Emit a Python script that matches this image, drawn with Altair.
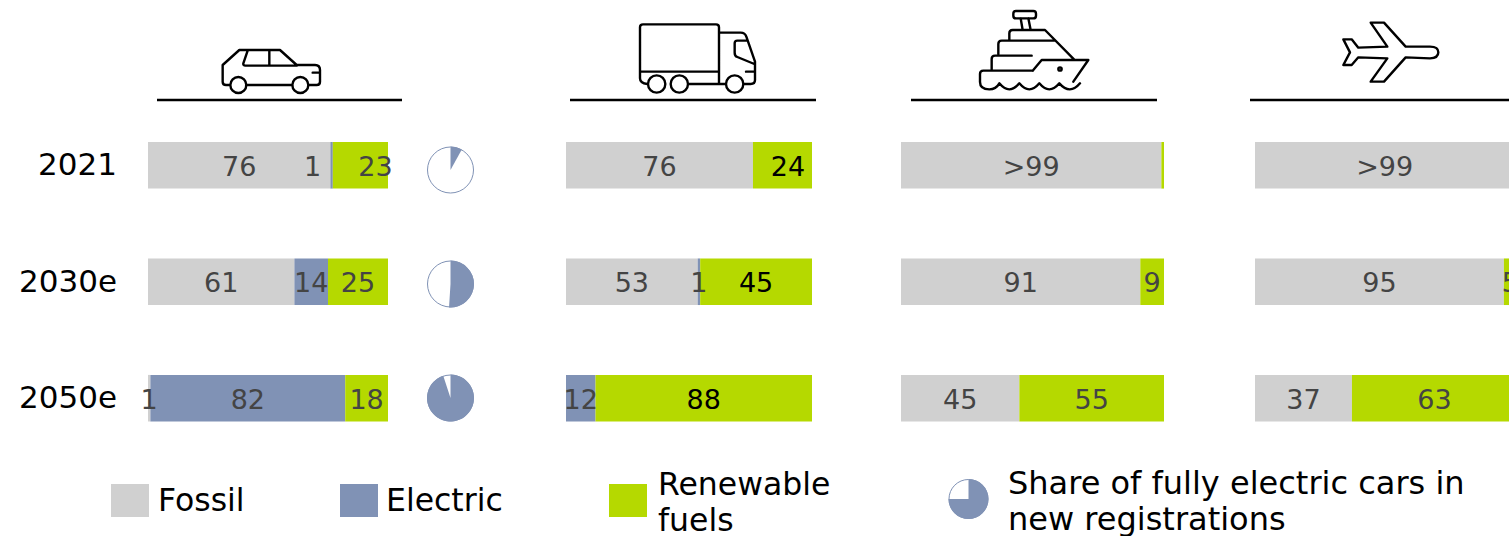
import altair as alt
import pandas as pd

# Energy mix per transport mode, in percent
years = ["2021", "2030e", "2050e"]
modes = ["Cars", "Trucks", "Ships", "Planes"]
series = ["Fossil", "Electric", "Renewable fuels"]
fossil = {"Cars": [76, 61, 1], "Trucks": [76, 53, 0], "Ships": [99, 91, 45], "Planes": [99, 95, 37]}
electric = {"Cars": [1, 14, 82], "Trucks": [0, 1, 12], "Ships": [0, 0, 0], "Planes": [0, 0, 0]}
renewable = {"Cars": [23, 25, 18], "Trucks": [24, 45, 88], "Ships": [1, 9, 55], "Planes": [1, 5, 63]}
ev_share = [8, 51, 95]
legend_ev_share = [75]
legend_labels = ["Fossil", "Electric", ["Renewable", "fuels"],
                 ["Share of fully electric cars in", "new registrations"]]

# Drawing constants
GREY, BLUE, GREEN = "#d0d0d0", "#8092b5", "#b5d900"
INK, DARK = "#000000", "#444444"
FONT = "DejaVu Sans"
W, H = 1509, 536
bar_span = {"Cars": [148, 388], "Trucks": [566, 812], "Ships": [901, 1164], "Planes": [1255, 1517]}
rule_span = {"Cars": [157, 402], "Trucks": [570, 816], "Ships": [911, 1157], "Planes": [1250, 1509]}
# Labels that sit off the middle of their segment, in pixels
label_nudge = {("Cars", "2021", "Electric"): -19, ("Cars", "2021", "Renewable fuels"): 15,
               ("Trucks", "2021", "Renewable fuels"): 5.5}
hidden_labels = {("Ships", "2021", "Renewable fuels"), ("Planes", "2021", "Renewable fuels")}
capped_labels = {("Ships", "2021", "Fossil"): ">99", ("Planes", "2021", "Fossil"): ">99"}

rows = []
for mode in modes:
    span = bar_span[mode]
    for i, year in enumerate(years):
        values = [fossil[mode][i], electric[mode][i], renewable[mode][i]]
        total = sum(values)
        run = 0
        for name, value in zip(series, values):
            if value:
                start, end = run / total, (run + value) / total
                key = (mode, year, name)
                shift = label_nudge.get(key, 0) / (span[1] - span[0])
                rows.append({
                    "mode": mode, "year": year, "series": name, "value": value,
                    "start": start, "end": end, "mid": (start + end) / 2 + shift,
                    "label": capped_labels.get(key, str(value)),
                    "shown": key not in hidden_labels,
                })
            run += value
table = pd.DataFrame(rows)

year_y = alt.Y("year:N", axis=None,
               scale=alt.Scale(type="band", domain=years, range=[142, 421.5],
                               paddingInner=0.6, paddingOuter=0))
series_color = alt.Color("series:N", legend=None,
                         scale=alt.Scale(domain=series, range=[GREY, BLUE, GREEN]))

layers = []

# Stacked bars and their value labels, one x scale per transport mode
for mode in modes:
    part = table[table["mode"] == mode]
    x_scale = alt.Scale(domain=[0, 1], range=bar_span[mode])
    layers.append(
        alt.Chart(part).mark_bar().encode(
            x=alt.X("start:Q", axis=None, scale=x_scale),
            x2="end:Q", y=year_y, color=series_color)
    )
    shown = part[part["shown"]]
    black = (shown["mode"] == "Trucks") & (shown["series"] == "Renewable fuels")
    for subset, ink in ((shown[~black], DARK), (shown[black], INK)):
        if len(subset):
            layers.append(
                alt.Chart(subset).mark_text(font=FONT, fontSize=27, color=ink, dy=2.5).encode(
                    x=alt.X("mid:Q", axis=None, scale=x_scale),
                    y=year_y, text="label:N")
            )
    x0, x1 = rule_span[mode]
    layers.append(
        alt.Chart(pd.DataFrame({"mode": [mode]})).mark_rule(color=INK, strokeWidth=2.5).encode(
            x=alt.value(x0), x2=alt.value(x1), y=alt.value(100))
    )

# Year labels
layers.append(
    alt.Chart(pd.DataFrame({"year": years})).mark_text(
        font=FONT, fontSize=31, color=INK, align="right", dy=1).encode(
        x=alt.value(117), y=year_y, text="year:N")
)

# Pies with the share of fully electric cars: a ring, then the filled wedge
pie_y = alt.Y("year:N", axis=None,
              scale=alt.Scale(type="point", domain=years, range=[170, 398], padding=0))
pies = pd.DataFrame({"year": years, "zero": [0] * 3, "share": ev_share})
pie_theta = alt.Scale(domain=[0, 100], range=[0, 6.283185307])
layers.append(
    alt.Chart(pies).mark_point(shape="circle", size=2116, filled=False, stroke=BLUE,
                               strokeWidth=1, opacity=1).encode(
        x=alt.value(450.5), y=pie_y)
)
layers.append(
    alt.Chart(pies).mark_arc(radius=23.5, fill=BLUE).encode(
        x=alt.value(450.5), y=pie_y,
        theta=alt.Theta("zero:Q", scale=pie_theta), theta2="share:Q")
)

# Legend
for color, x0, x1 in ((GREY, 111, 149), (BLUE, 340, 378), (GREEN, 609, 647)):
    layers.append(
        alt.Chart(pd.DataFrame({"swatch": [color]})).mark_rect(color=color).encode(
            x=alt.value(x0), x2=alt.value(x1), y=alt.value(484), y2=alt.value(517))
    )
legend_key = pd.DataFrame({"zero": [0], "share": legend_ev_share})
layers.append(
    alt.Chart(legend_key).mark_point(shape="circle", size=1521, filled=False, stroke=BLUE,
                                     strokeWidth=1, opacity=1).encode(
        x=alt.value(968.5), y=alt.value(499))
)
layers.append(
    alt.Chart(legend_key).mark_arc(radius=20, fill=BLUE).encode(
        x=alt.value(968.5), y=alt.value(499),
        theta=alt.Theta("zero:Q", scale=pie_theta), theta2="share:Q")
)
for text, x, y, size in zip(legend_labels, (158, 386, 658, 1008), (502, 502, 486, 484),
                            (31.5, 31.5, 31.5, 32)):
    layers.append(
        alt.Chart(pd.DataFrame({"legend": [0]})).mark_text(
            text=text, font=FONT, fontSize=size, color=INK, align="left", baseline="middle",
            lineHeight=36).encode(x=alt.value(x), y=alt.value(y))
    )

# Line-art vehicles, each path drawn at a third of its own coordinates
car = ("M270,255 L258,255 Q248,255 248,245 L248,195 L298,150 L420,150 L470,195 L525,195 "
       "Q540,195 540,210 L540,245 Q540,255 530,255 L505,255 "
       "M318,255 L458,255 "
       "M271,255 A24,24 0 1,0 319,255 A24,24 0 1,0 271,255 "
       "M457,255 A24,24 0 1,0 505,255 A24,24 0 1,0 457,255 "
       "M323,152 L310,190 Q309,197 316,197 L470,197 "
       "M388,150 L388,197 M518,218 L540,218")
truck = ("M240,215 L240,82 Q240,73 249,73 L468,73 Q477,73 477,82 L477,252 "
         "M240,215 L477,215 M240,215 L240,235 Q240,250 262,252 "
         "M384,252 L498,252 "
         "M264,252 A26,26 0 1,0 316,252 A26,26 0 1,0 264,252 "
         "M332,252 A26,26 0 1,0 384,252 A26,26 0 1,0 332,252 "
         "M498,252 A26,26 0 1,0 550,252 A26,26 0 1,0 498,252 "
         "M477,98 L542,98 Q555,98 559,110 L585,185 L585,240 Q585,252 572,252 L550,252 "
         "M558,122 L532,122 Q524,122 524,130 L524,158 Q524,168 532,171 L583,192 "
         "M558,215 L585,215")
ship = ("M348,33 L400,33 Q408,33 408,41 L408,47 Q408,55 400,55 L348,55 Q340,55 340,47 L340,41 Q340,33 348,33 "
        "M362,55 L368,90 M385,55 L392,90 "
        "M328,120 L328,100 Q328,90 338,90 L435,90 L522,178 "
        "M295,162 L295,132 Q295,122 305,122 L463,122 "
        "M275,208 L275,177 Q275,167 285,167 L395,167 "
        "M398,212 L250,212 Q240,212 240,222 L240,246 Q240,268 268,268 Q288,268 298,250 "
        "Q328,286 358,250 Q388,286 418,250 Q448,286 478,250 Q510,286 540,250 "
        "M398,212 L425,180 L565,180 L520,245 "
        "M475,207 A5,5 0 1,0 485,207 A5,5 0 1,0 475,207")
plane = ("M570,140 L497,140 L432,68 L392,68 L442,140 L355,143 L335,118 L310,118 L330,157 "
         "L310,195 L335,195 L355,172 L442,175 L392,245 L432,245 L497,172 L570,175 "
         "Q595,175 595,157 Q595,140 570,140 Z")
for path, x in ((car, 140), (truck, 560), (ship, 900), (plane, 1240)):
    layers.append(
        alt.Chart(pd.DataFrame({"icon": [x]})).mark_point(
            shape=path, size=4 / 9, filled=False, stroke=INK, strokeWidth=2.4,
            strokeJoin="round", strokeCap="round", opacity=1).encode(
            x=alt.value(x), y=alt.value(0))
    )

chart = alt.layer(*layers).resolve_scale(x="independent", y="independent").properties(
    width=W, height=H, padding=0, autosize=alt.AutoSizeParams(type="none")
).configure_view(stroke=None)

chart.save("out.html", embed_options={"renderer": "svg", "actions": False})
